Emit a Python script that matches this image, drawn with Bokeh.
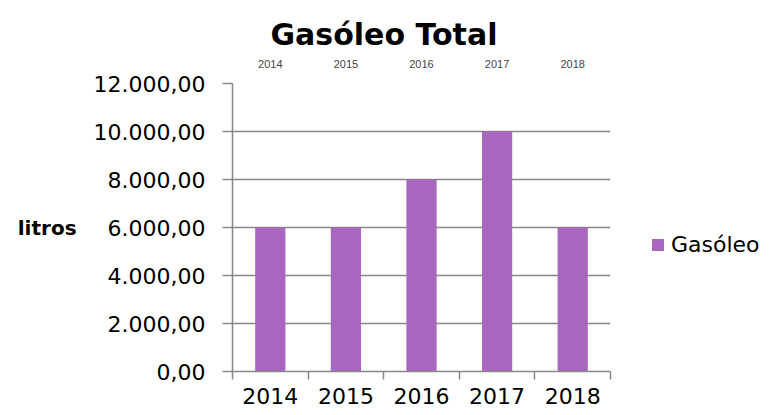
from bokeh.plotting import figure
from bokeh.models import FixedTicker, Range1d, Legend, LegendItem, LinearAxis
from bokeh.embed import file_html
from bokeh.resources import INLINE

years = ["2014", "2015", "2016", "2017", "2018"]
gasoleo = [6000, 6000, 8000, 10000, 6000]
y_ticks = [0, 2000, 4000, 6000, 8000, 10000, 12000]
y_labels = ["0,00", "2.000,00", "4.000,00", "6.000,00", "8.000,00", "10.000,00", "12.000,00"]

FONT = "DejaVu Sans"
GRAY = "#878787"
BAR = "#A966BE"

xs = [i + 0.5 for i in range(len(years))]

p = figure(frame_width=378, frame_height=288, output_backend="svg", toolbar_location=None,
           x_range=Range1d(0, len(years)), y_range=Range1d(0, 12000),
           min_border_left=232, min_border_right=151, min_border_top=83,
           min_border_bottom=36)

# invisible, tick-less axis used as a spacer between the title and the frame
spacer = LinearAxis(ticker=FixedTicker(ticks=[], minor_ticks=[]),
                    major_tick_out=33, major_tick_in=0, minor_tick_out=0,
                    major_label_standoff=0, axis_label_standoff=0,
                    axis_line_color=None, major_tick_line_color=None,
                    minor_tick_line_color=None)
p.add_layout(spacer, "above")

r = p.vbar(x=xs, top=gasoleo, width=0.4, fill_color=BAR, line_color=None)

p.title.text = "Gasóleo Total"
p.title.text_font = FONT
p.title.text_font_size = "30px"
p.title.text_font_style = "bold"
p.title.text_color = "black"
p.title.align = "left"
p.title.offset = 38
p.title.standoff = 10

p.outline_line_color = None
p.xgrid.visible = False
p.ygrid.grid_line_color = GRAY
p.ygrid.grid_line_width = 1.5

p.yaxis.ticker = FixedTicker(ticks=y_ticks, minor_ticks=[])
p.yaxis.major_label_overrides = {t: l for t, l in zip(y_ticks, y_labels)}
p.yaxis.axis_label = "litros"
p.yaxis.axis_label_orientation = "horizontal"
p.yaxis.axis_label_text_font = FONT
p.yaxis.axis_label_text_font_style = "bold"
p.yaxis.axis_label_text_font_size = "20px"
p.yaxis.axis_label_text_color = "black"
p.yaxis.axis_label_standoff = 14
p.yaxis.major_label_standoff = 17
p.yaxis.major_tick_out = 10
p.yaxis.major_tick_in = 0

p.xaxis.ticker = FixedTicker(ticks=xs, minor_ticks=list(range(len(years) + 1)))
p.xaxis.major_label_overrides = {x: y for x, y in zip(xs, years)}
p.xaxis.major_tick_line_color = None
p.xaxis.major_tick_out = 8
p.xaxis.major_tick_in = 0
p.xaxis.minor_tick_out = 8
p.xaxis.minor_tick_in = 0
p.xaxis.major_label_standoff = 8

for ax in (p.below[0], p.left[0]):
    ax.axis_line_color = GRAY
    ax.axis_line_width = 1.5
    ax.major_tick_line_width = 1.5
    ax.minor_tick_line_width = 1.5
    ax.minor_tick_line_color = GRAY
    ax.major_label_text_font = FONT
    ax.major_label_text_font_size = "22px"
    ax.major_label_text_color = "black"
p.left[0].major_tick_line_color = GRAY

legend = Legend(items=[LegendItem(label="Gasóleo", renderers=[r])],
                location=(40, 114), border_line_color=None,
                background_fill_alpha=0, glyph_width=15, glyph_height=15,
                label_text_font=FONT, label_text_font_size="22px",
                label_text_color="black",
                label_standoff=6, padding=4, margin=0)
p.add_layout(legend, "right")

open("out.html", "w").write(file_html(p, INLINE))
